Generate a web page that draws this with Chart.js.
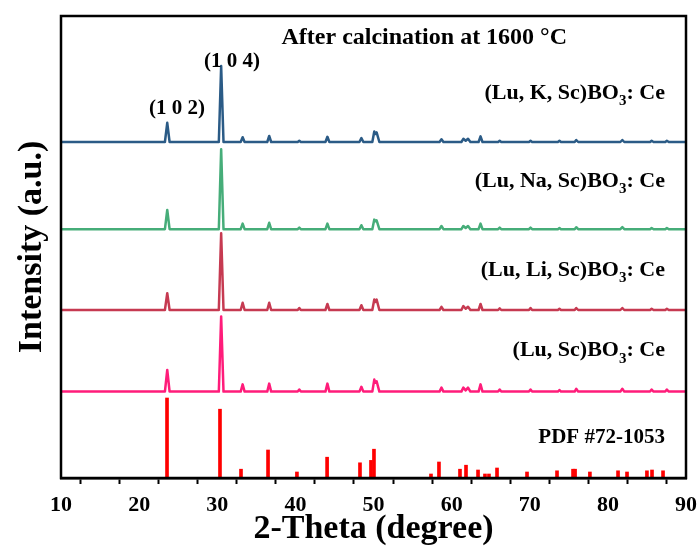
<!DOCTYPE html>
<html>
<head>
<meta charset="utf-8">
<script src="https://cdn.jsdelivr.net/npm/chart.js@4.4.1/dist/chart.umd.min.js"></script>
<style>
body { margin: 0; background: #fff; }
#wrap { width: 700px; height: 547px; }
</style>
</head>
<body>
<div id="wrap"><canvas id="xrdChart"></canvas></div>
<script>
// 2-theta grid shared by the four scans
const twoTheta = [10, 23.3, 23.6, 23.9, 30.2, 30.5, 30.8, 33.0, 33.25, 33.5,
  36.4, 36.65, 36.9, 40.3, 40.5, 40.7, 43.85, 44.1, 44.35, 48.2,
  48.45, 48.7, 49.85, 50.1, 50.25, 50.4, 50.75, 58.45, 58.7, 58.95,
  61.25, 61.5, 61.8, 62.1, 62.4, 63.45, 63.7, 63.95, 65.95, 66.15,
  66.35, 69.9, 70.1, 70.3, 73.6, 73.8, 74.0, 75.75, 75.95, 76.2,
  81.6, 81.85, 82.1, 85.4, 85.6, 85.85, 87.35, 87.55, 87.8, 90];

// intensities above each scan's own baseline (a.u.)
const luScCe = [0, 0, 27, 0, 0, 94, 0, 0, 9, 0,
  0, 10, 0, 0, 2.5, 0, 0, 10, 0, 0,
  6, 0, 0, 15, 11, 13, 0, 0, 5, 0,
  0, 5, 1.5, 5, 0, 0, 9, 0, 0, 2.5,
  0, 0, 2.5, 0, 0, 2, 0, 0, 3.5, 0,
  0, 3.5, 0, 0, 2.5, 0, 0, 2.5, 0, 0];
const luLiScCe = [0, 0, 21, 0, 0, 96, 0, 0, 9, 0,
  0, 9, 0, 0, 2.5, 0, 0, 7.5, 0, 0,
  6, 0, 0, 13, 10, 13, 0, 0, 4, 0,
  0, 5, 1.5, 4, 0, 0, 7.5, 0, 0, 2,
  0, 0, 2.5, 0, 0, 1.5, 0, 0, 2.5, 0,
  0, 2.5, 0, 0, 1.5, 0, 0, 1.5, 0, 0];
const luNaScCe = [0, 0, 24, 0, 0, 100, 0, 0, 7, 0,
  0, 8, 0, 0, 2, 0, 0, 7, 0, 0,
  5, 0, 0, 12, 10, 11, 0, 0, 4, 0,
  0, 4, 1.5, 4, 0, 0, 7, 0, 0, 2,
  0, 0, 2, 0, 0, 1.5, 0, 0, 2.5, 0,
  0, 2.5, 0, 0, 1.5, 0, 0, 1.5, 0, 0];
const luKScCe = [0, 0, 24, 0, 0, 95, 0, 0, 6, 0,
  0, 7.5, 0, 0, 1.5, 0, 0, 6.5, 0, 0,
  5, 0, 0, 13, 10, 12, 0, 0, 3.5, 0,
  0, 4, 1.5, 4, 0, 0, 7, 0, 0, 1.5,
  0, 0, 1.5, 0, 0, 1.5, 0, 0, 2.5, 0,
  0, 2.5, 0, 0, 1.5, 0, 0, 1.5, 0, 0];

// vertical offsets used to stack the scans
const scanOffsets = [108, 210, 311, 420];

// reference card PDF #72-1053
const pdfTheta = [23.57, 30.35, 33.04, 36.5, 40.2, 44.06, 48.27, 49.68, 50.06, 57.36,
  58.38, 61.07, 61.84, 63.38, 64.27, 64.78, 65.81, 69.65, 73.49, 75.54,
  75.8, 77.7, 81.3, 82.45, 85.0, 85.65, 87.06];
const pdfIntensity = [100, 86, 11, 35, 7.5, 26, 19, 22, 36, 5,
  20, 11, 16, 10, 5, 5, 12.5, 7.5, 9, 11,
  11, 7.5, 9, 7.5, 9, 10, 9];

const xTicks = [10, 20, 30, 40, 50, 60, 70, 80, 90];

const serif = '"Liberation Serif", "Times New Roman", serif';

function scan(values, offset, color) {
  return {
    type: 'line',
    data: twoTheta.map((t, i) => ({x: t, y: values[i] + offset})),
    borderColor: color,
    borderWidth: 2.5,
    pointRadius: 0,
    tension: 0,
    borderJoinStyle: 'round'
  };
}

function drawFormula(ctx, before, sub, after, xRight, yMid) {
  const big = 'bold 22px ' + serif;
  const small = 'bold 15px ' + serif;
  ctx.font = big;
  const w1 = ctx.measureText(before).width;
  const w3 = ctx.measureText(after).width;
  ctx.font = small;
  const w2 = ctx.measureText(sub).width;
  let xs = xRight - (w1 + w2 + w3);
  ctx.textAlign = 'left';
  ctx.font = big;
  ctx.fillText(before, xs, yMid);
  ctx.font = small;
  ctx.fillText(sub, xs + w1, yMid + 8);
  ctx.font = big;
  ctx.fillText(after, xs + w1 + w2, yMid);
}

const annotate = {
  id: 'annotate',
  afterDraw(chart) {
    const {ctx, chartArea: a, scales: {x, y}} = chart;
    ctx.save();
    ctx.strokeStyle = '#000';
    ctx.lineWidth = 2.5;
    ctx.strokeRect(a.left, a.top, a.right - a.left, a.bottom - a.top);

    ctx.fillStyle = '#000';
    ctx.textBaseline = 'middle';
    ctx.textAlign = 'center';
    ctx.font = 'bold 24px ' + serif;
    ctx.fillText('After calcination at 1600 °C', x.getPixelForValue(56.5), y.getPixelForValue(550));
    ctx.font = 'bold 21px ' + serif;
    ctx.fillText('(1 0 4)', x.getPixelForValue(31.9), y.getPixelForValue(521));
    ctx.fillText('(1 0 2)', x.getPixelForValue(24.85), y.getPixelForValue(462));

    const xr = x.getPixelForValue(87.3);
    drawFormula(ctx, '(Lu, K, Sc)BO', '3', ': Ce', xr, y.getPixelForValue(481));
    drawFormula(ctx, '(Lu, Na, Sc)BO', '3', ': Ce', xr, y.getPixelForValue(371));
    drawFormula(ctx, '(Lu, Li, Sc)BO', '3', ': Ce', xr, y.getPixelForValue(260));
    drawFormula(ctx, '(Lu, Sc)BO', '3', ': Ce', xr, y.getPixelForValue(159));
    ctx.textAlign = 'right';
    ctx.font = 'bold 21px ' + serif;
    ctx.fillText('PDF #72-1053', xr, y.getPixelForValue(51));
    ctx.restore();
  }
};

new Chart(document.getElementById('xrdChart'), {
  type: 'line',
  data: {
    datasets: [
      scan(luKScCe, scanOffsets[3], '#2b5b86'),
      scan(luNaScCe, scanOffsets[2], '#46ad79'),
      scan(luLiScCe, scanOffsets[1], '#c63a51'),
      scan(luScCe, scanOffsets[0], '#ff1c7a'),
      {
        type: 'bar',
        data: pdfTheta.map((t, i) => ({x: t, y: pdfIntensity[i]})),
        backgroundColor: '#ff0000',
        barThickness: 3,
        grouped: false
      }
    ]
  },
  options: {
    responsive: true,
    maintainAspectRatio: false,
    animation: false,
    layout: {padding: {left: 0, right: 14, top: 16, bottom: 0}},
    plugins: {legend: {display: false}, tooltip: {enabled: false}},
    scales: {
      x: {
        type: 'linear',
        min: 10,
        max: 90,
        offset: false,
        afterFit(s) {
          s.height = 69;
          s.paddingLeft = 0;
          s.paddingRight = 0;
        },
        afterBuildTicks(s) {
          s.ticks = [];
          for (let v = 10; v <= 90; v += 5) s.ticks.push({value: v});
        },
        ticks: {
          autoSkip: false,
          maxRotation: 0,
          padding: 8,
          color: '#000',
          font: {family: serif, size: 22, weight: 'bold'},
          callback: v => xTicks.includes(v) ? String(v) : ''
        },
        grid: {drawOnChartArea: false, drawTicks: true, tickLength: 6, tickWidth: 2, tickColor: '#000'},
        border: {display: true, color: '#000', width: 2.5},
        title: {
          display: true,
          text: '2-Theta (degree)',
          color: '#000',
          font: {family: serif, size: 34, weight: 'bold', lineHeight: 1},
          padding: {top: 0, bottom: 1}
        }
      },
      y: {
        min: 0,
        max: 577.5,
        afterFit(s) { s.width = 61; },
        ticks: {display: false},
        grid: {display: false},
        border: {display: false},
        title: {
          display: true,
          text: 'Intensity (a.u.)',
          color: '#000',
          font: {family: serif, size: 34, weight: 'bold', lineHeight: 1},
          padding: {top: 15, bottom: 0}
        }
      }
    }
  },
  plugins: [annotate]
});
</script>
</body>
</html>
